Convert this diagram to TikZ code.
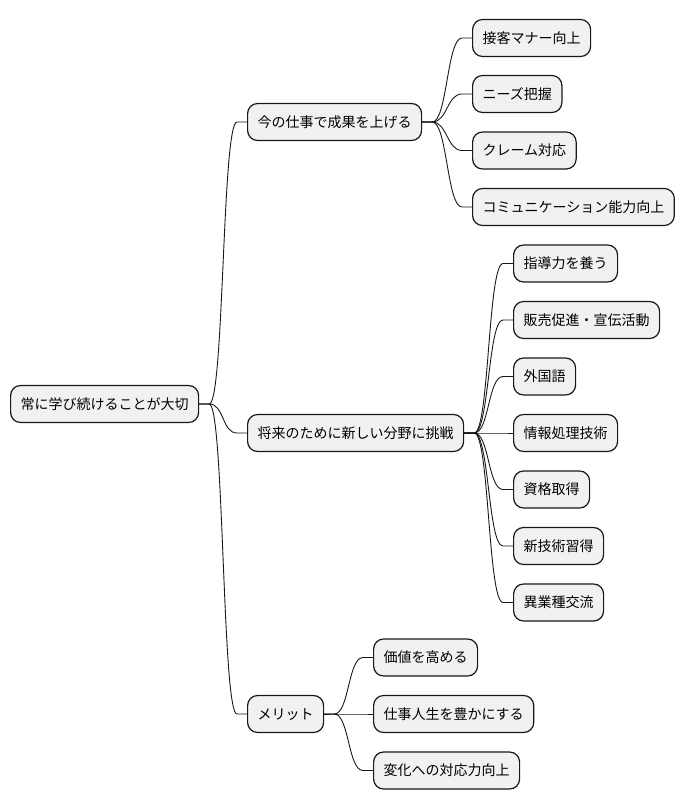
\documentclass[tikz,border=0pt]{standalone}
\usepackage{fontspec}
\setmainfont{Noto Sans CJK JP}
\usetikzlibrary{calc}
\definecolor{boxfill}{HTML}{F1F1F1}
\definecolor{boxline}{HTML}{181818}
\tikzset{
  mmnode/.style={draw=boxline, fill=boxfill, line width=1.2pt, rounded corners=10pt,
    anchor=west, inner xsep=10pt, inner ysep=0pt, minimum height=37pt,
    text height=12pt, text depth=2pt, font=\fontsize{14pt}{16pt}\selectfont},
  mmedge/.style={draw=boxline, line width=0.9pt}
}
\newcommand{\mmlink}[2]{\draw[mmedge] (#1.east) -- ($(#1.east)+(10,0)$) .. controls ($(#1.east)+(25,0)$) and ($(#2.west)+(-25,0)$) .. ($(#2.west)+(-10,0)$) -- (#2.west);}
\begin{document}
\begin{tikzpicture}[x=1pt,y=-1pt]
\useasboundingbox (0,0) rectangle (684,809);
\node[mmnode] (root) at (10,404) {常に学び続けることが大切};
\node[mmnode] (a) at (247,122) {今の仕事で成果を上げる};
\node[mmnode] (b) at (247,433) {将来のために新しい分野に挑戦};
\node[mmnode] (c) at (247,714) {メリット};
\node[mmnode] (a1) at (472,38) {接客マナー向上};
\node[mmnode] (a2) at (472,94) {ニーズ把握};
\node[mmnode] (a3) at (472,150.5) {クレーム対応};
\node[mmnode] (a4) at (472,207) {コミュニケーション能力向上};
\node[mmnode] (b1) at (513,263.5) {指導力を養う};
\node[mmnode] (b2) at (513,320) {販売促進・宣伝活動};
\node[mmnode] (b3) at (513,376.5) {外国語};
\node[mmnode] (b4) at (513,433) {情報処理技術};
\node[mmnode] (b5) at (513,489.5) {資格取得};
\node[mmnode] (b6) at (513,546) {新技術習得};
\node[mmnode] (b7) at (513,602.5) {異業種交流};
\node[mmnode] (c1) at (373,657.5) {価値を高める};
\node[mmnode] (c2) at (373,714) {仕事人生を豊かにする};
\node[mmnode] (c3) at (373,770.5) {変化への対応力向上};
\mmlink{root}{a}
\mmlink{root}{b}
\mmlink{root}{c}
\mmlink{a}{a1}
\mmlink{a}{a2}
\mmlink{a}{a3}
\mmlink{a}{a4}
\mmlink{b}{b1}
\mmlink{b}{b2}
\mmlink{b}{b3}
\mmlink{b}{b4}
\mmlink{b}{b5}
\mmlink{b}{b6}
\mmlink{b}{b7}
\mmlink{c}{c1}
\mmlink{c}{c2}
\mmlink{c}{c3}
\end{tikzpicture}
\end{document}
